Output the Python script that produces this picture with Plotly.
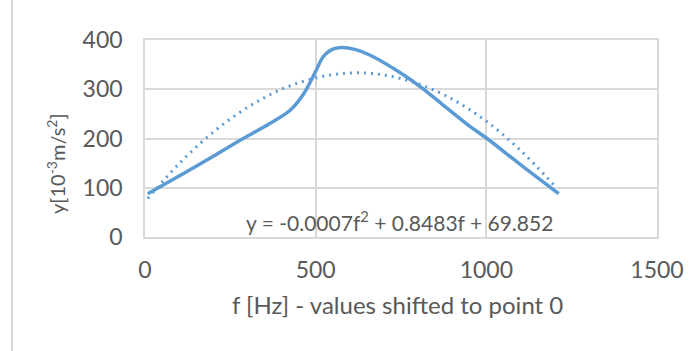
import plotly.graph_objects as go

# Measured data (solid curve)
freq = [8, 100, 200, 280, 367, 426, 465, 499, 522, 548, 575, 615, 660, 758, 807, 870, 953, 1002, 1100, 1212]
accel = [88, 124, 164, 197, 231, 258, 291, 335, 366, 381, 385, 381, 369, 329, 305, 270, 224, 200, 147, 88]

# Trendline (dotted), values
trend_f = [8, 100, 200, 300, 400, 500, 600, 700, 800, 900, 1000, 1100, 1200]
trend_y = [78, 149, 213, 263, 300, 323, 333, 329, 311, 280, 235, 176, 104]

x_ticks = [0, 500, 1000, 1500]
y_ticks = [0, 100, 200, 300, 400]

equation = "y = -0.0007f<sup>2</sup> + 0.8483f + 69.852"
x_title = "f [Hz] - values shifted to point 0"
y_title = "y[10<sup>-3</sup>m/s<sup>2</sup>]"

BLUE = "#5B9BD5"
TXT = "#595959"
GRID = "#D9D9D9"
FONT = "Lato"

fig = go.Figure()
fig.add_trace(go.Scatter(x=trend_f, y=trend_y, mode="lines",
                         line=dict(color=BLUE, width=3, dash="2px,5px", shape="spline"),
                         hoverinfo="skip", showlegend=False))
fig.add_trace(go.Scatter(x=freq, y=accel, mode="lines",
                         line=dict(color=BLUE, width=3.5, shape="spline", smoothing=0.9),
                         showlegend=False))

fig.update_layout(
    width=700, height=351,
    margin=dict(l=145, r=43, t=40, b=114),
    paper_bgcolor="white", plot_bgcolor="white",
    font=dict(family=FONT, color=TXT, size=23),
    xaxis=dict(range=[0, 1500], tickvals=x_ticks, showgrid=True, gridcolor=GRID, gridwidth=1.5,
               zeroline=False, showline=True, linecolor=GRID, linewidth=1.5, mirror=True,
               ticks="", tickfont=dict(size=23, color=TXT), ticklabelstandoff=12, fixedrange=True),
    yaxis=dict(range=[0, 400], tickvals=y_ticks, showgrid=True, gridcolor=GRID, gridwidth=1.5,
               zeroline=False, showline=True, linecolor=GRID, linewidth=1.5, mirror=True,
               ticks="", tickfont=dict(size=23, color=TXT), ticklabelstandoff=16, fixedrange=True),
    annotations=[
        dict(text=equation, x=745, y=32, xref="x", yref="y", showarrow=False,
             font=dict(size=21, color=TXT, family=FONT), xanchor="center", yanchor="middle"),
        dict(text=x_title, x=(397.5 - 145) / 512, y=(237 - 304) / 197, xref="paper", yref="paper",
             showarrow=False, font=dict(size=24, color=TXT, family=FONT),
             xanchor="center", yanchor="middle"),
        dict(text=y_title, x=(56 - 145) / 512, y=(237 - 164) / 197, xref="paper", yref="paper",
             showarrow=False, textangle=-90, font=dict(size=20, color=TXT, family=FONT),
             xanchor="center", yanchor="middle"),
    ],
    shapes=[dict(type="line", xref="paper", yref="paper",
                 x0=(12 - 145) / 512, x1=(12 - 145) / 512,
                 y0=(237 - 351) / 197, y1=(237 - 0) / 197,
                 line=dict(color=GRID, width=2))],
)

fig.write_html("out.html", post_script="document.body.style.margin='0';",
               config={"displayModeBar": False})
